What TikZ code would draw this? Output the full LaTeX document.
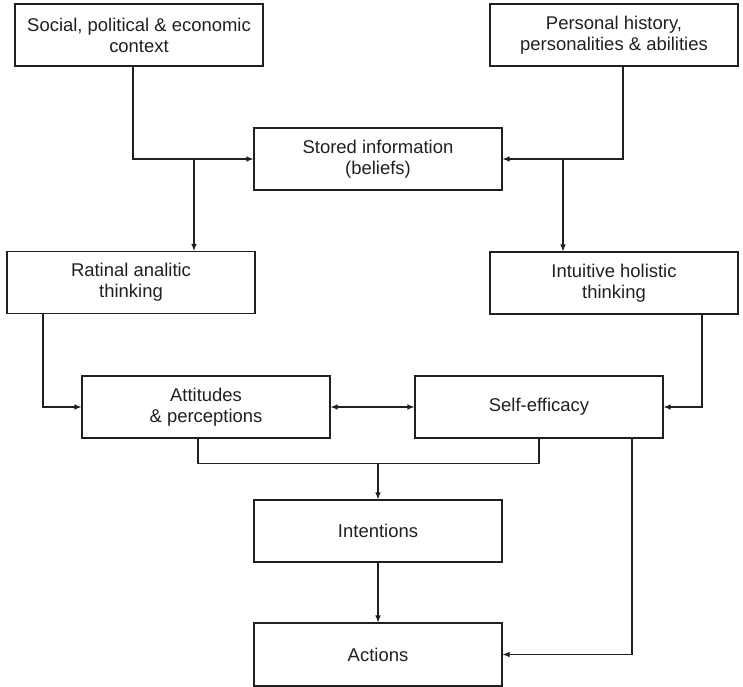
\documentclass[tikz,border=0pt]{standalone}
\usepackage{fontspec}
\setmainfont{Liberation Sans}
\usepackage{tikz}
\usepackage{xcolor}
\usetikzlibrary{arrows.meta,positioning,calc}
\definecolor{ink}{HTML}{231F20}
\tikzset{
  box/.style={draw=ink,text=ink,line width=0.6pt,align=center,inner sep=0pt,
              minimum width=4.96cm,minimum height=1.24cm,
              font=\fontsize{10.5}{12}\selectfont},
  arr/.style={-{Latex[length=1.4mm,width=1.1mm]},line width=0.6pt,draw=ink},
  link/.style={line width=0.6pt,draw=ink},
  dblarr/.style={{Latex[length=1.4mm,width=1.1mm]}-{Latex[length=1.4mm,width=1.1mm]},
                 line width=0.6pt,draw=ink}
}
\begin{document}
\begin{tikzpicture}[x=1cm,y=1cm]
    \path[use as bounding box] (0,0) rectangle (14.86,-13.74);

    \node[box] (social)    at (2.78,-0.70)  {Social, political \& economic\\context};
    \node[box] (personal)  at (12.28,-0.70) {Personal history,\\personalities \& abilities};
    \node[box] (stored)    at (7.56,-3.18)  {Stored information\\(beliefs)};
    \node[box] (rational)  at (2.62,-5.65)  {Ratinal analitic\\thinking};
    \node[box] (intuitive) at (12.28,-5.66) {Intuitive holistic\\thinking};
    \node[box] (attitudes) at (4.12,-8.14)  {Attitudes\\\& perceptions};
    \node[box] (efficacy)  at (10.78,-8.14) {Self-efficacy};
    \node[box] (intent)    at (7.56,-10.62) {Intentions};
    \node[box,minimum height=1.26cm] (actions) at (7.56,-13.09) {Actions};

    \coordinate (rtop) at ([xshift=1.26cm]rational.north);
    \coordinate (itop) at ([xshift=-1.02cm]intuitive.north);
    \coordinate (merge) at ([yshift=0.72cm]intent.north);

    \draw[arr] ([xshift=-0.12cm]social.south) |- (stored.west);
    \draw[arr] ([xshift=0.18cm]personal.south) |- (stored.east);
    \draw[arr] (rtop |- stored.west) -- (rtop);
    \draw[arr] (itop |- stored.east) -- (itop);
    \draw[arr] ([xshift=-1.76cm]rational.south) |- (attitudes.west);
    \draw[arr] ([xshift=1.76cm]intuitive.south) |- (efficacy.east);
    \draw[dblarr] (attitudes.east) -- (efficacy.west);
    \draw[link] ([xshift=-0.16cm]attitudes.south) |- (merge) -| (efficacy.south);
    \draw[arr] (merge) -- (intent.north);
    \draw[arr] (intent.south) -- (actions.north);
    \draw[arr] ([xshift=1.86cm]efficacy.south) |- (actions.east);
  \end{tikzpicture}
\end{document}
